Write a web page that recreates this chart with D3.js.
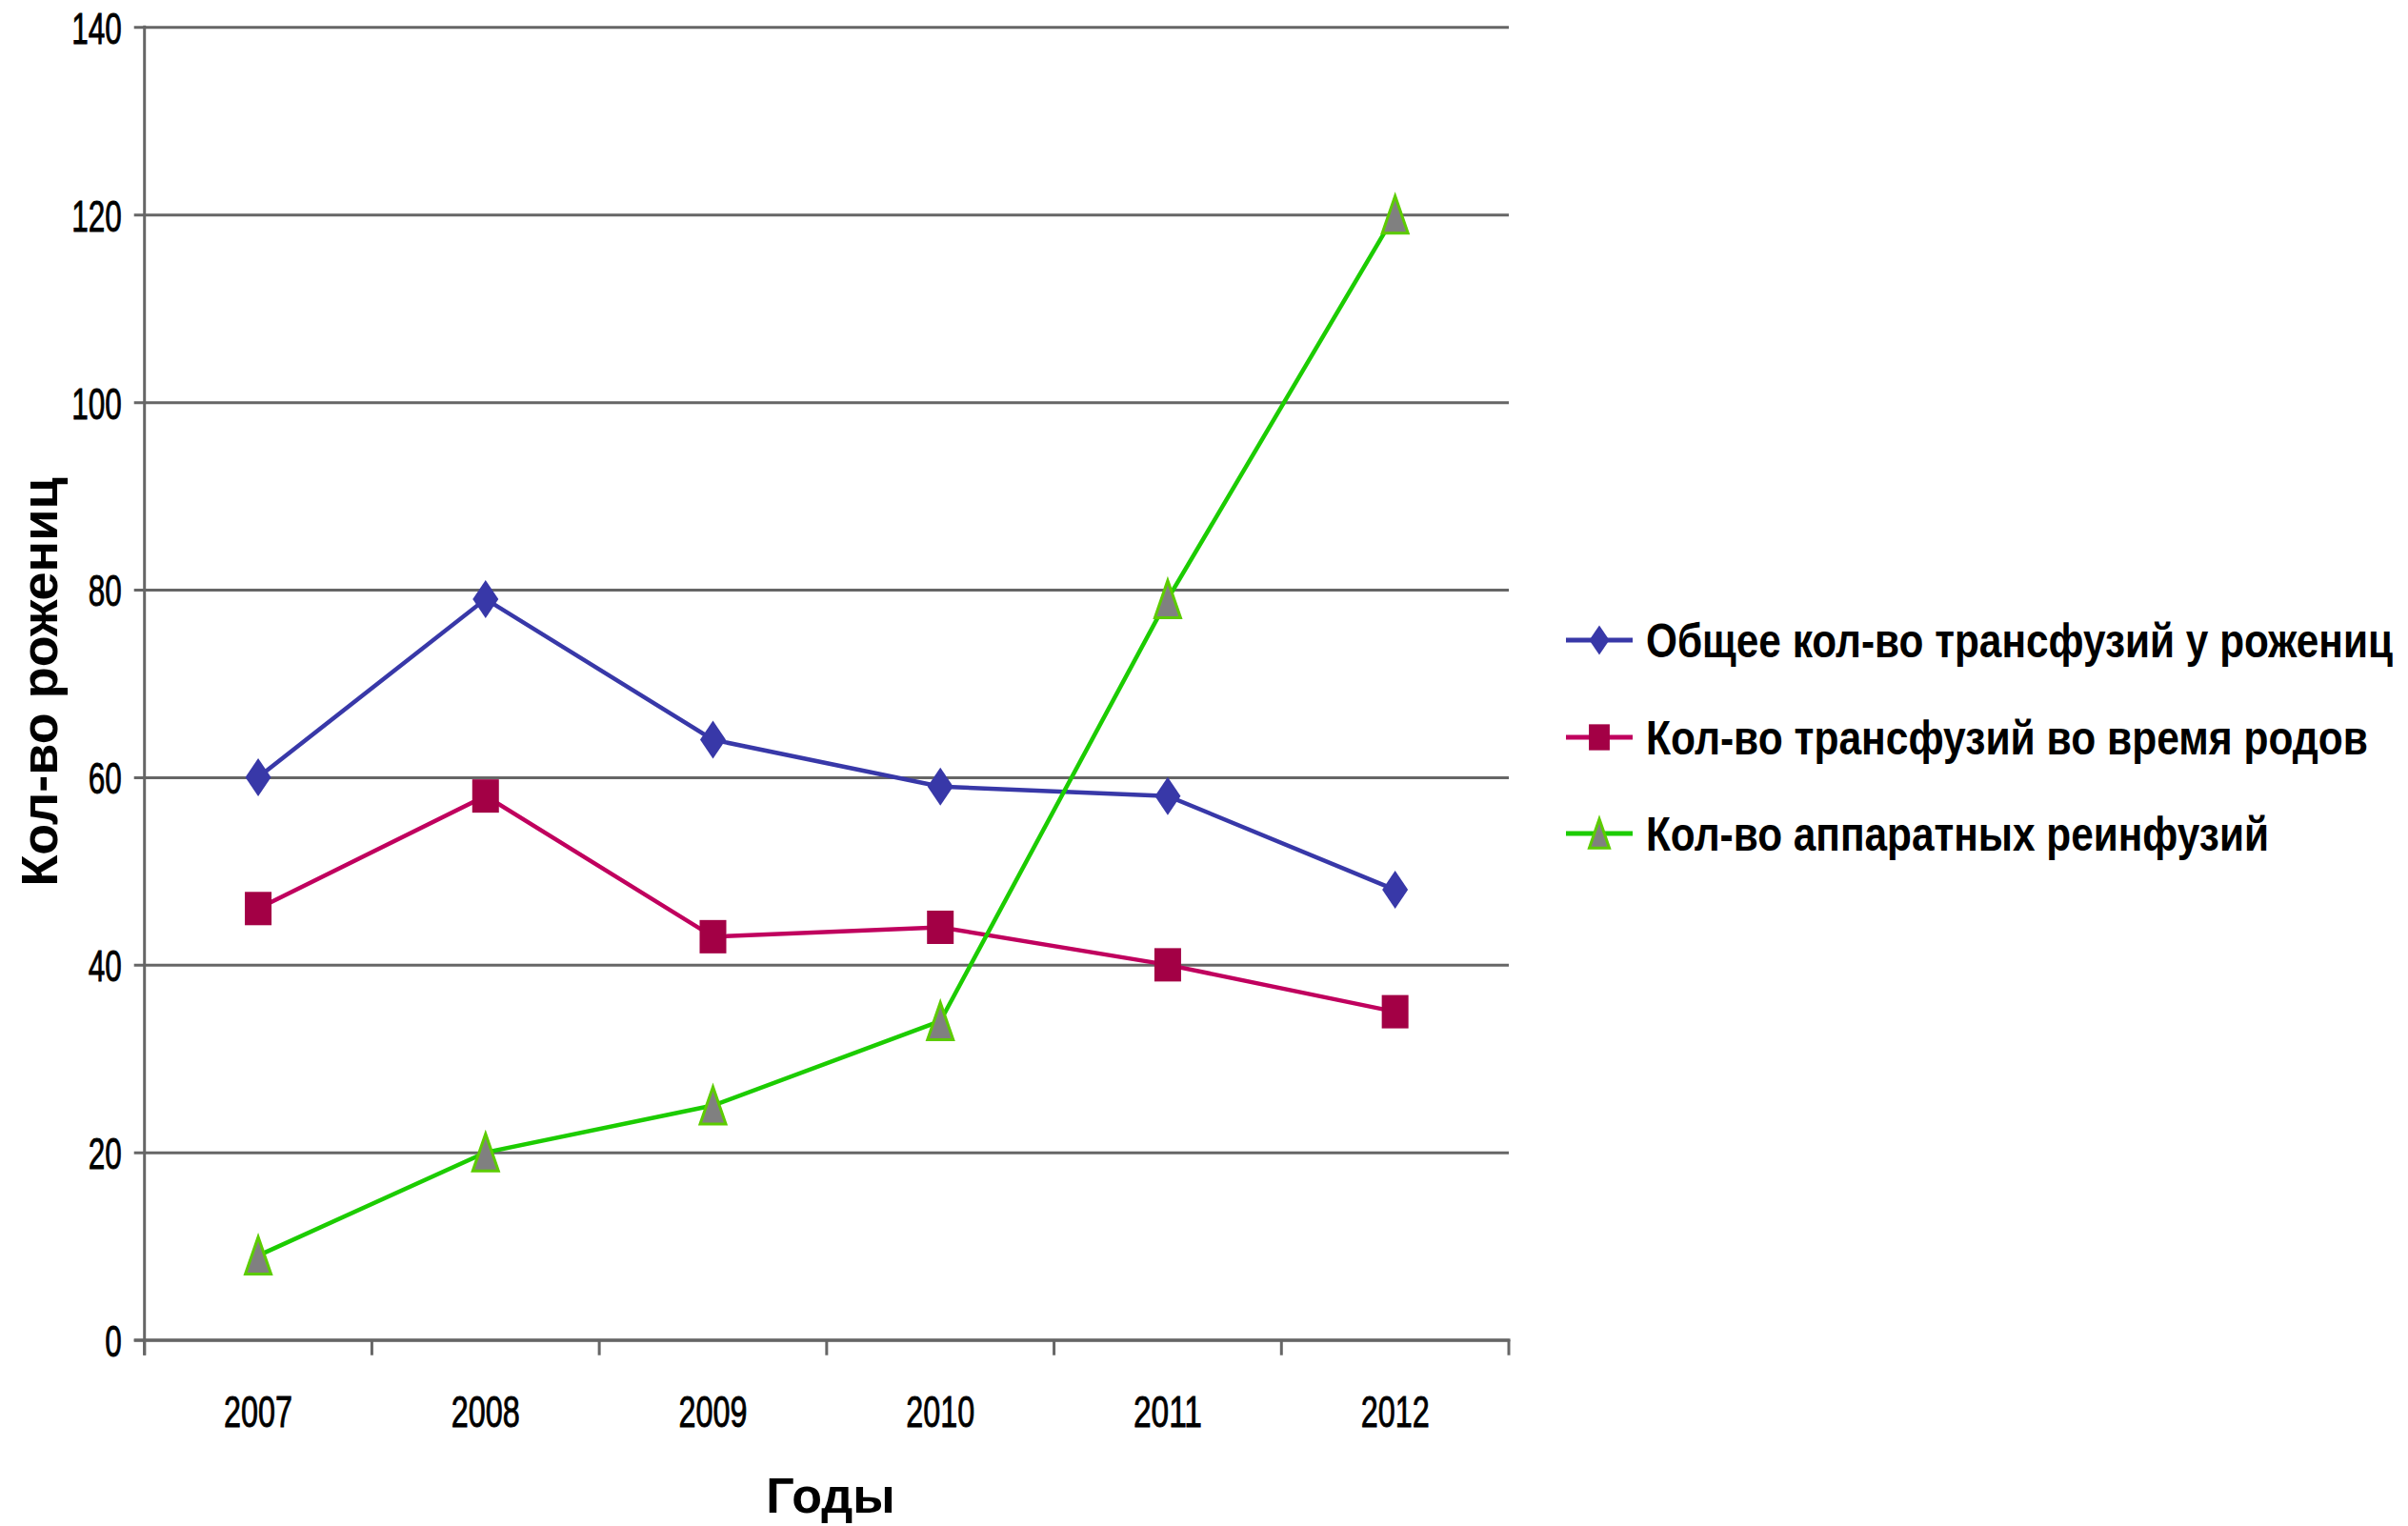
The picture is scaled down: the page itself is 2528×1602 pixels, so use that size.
<!DOCTYPE html>
<html>
<head>
<meta charset="utf-8">
<script src="https://cdn.jsdelivr.net/npm/d3@7"></script>
<style>
  html, body { margin: 0; padding: 0; background: #fff; }
  svg { display: block; }
  .narrow { font-family: "Liberation Sans Narrow", "Arial Narrow", "Liberation Sans", Arial, sans-serif; }
  .bold { font-family: "Liberation Sans", Arial, "DejaVu Sans", sans-serif; font-weight: bold; }
</style>
</head>
<body>
<script>
// Years on the horizontal axis
const years = ["2007", "2008", "2009", "2010", "2011", "2012"];

// Series values per year
const totalTransfusions = [60, 79, 64, 59, 58, 48];
const laborTransfusions = [46, 58, 43, 44, 40, 35];
const reinfusions = [9, 20, 25, 34, 79, 120];

// Series names shown in the legend
const seriesNames = [
  "Общее кол-во трансфузий у рожениц",
  "Кол-во трансфузий во время родов",
  "Кол-во аппаратных реинфузий"
];

// Y axis ticks
const yTicks = [0, 20, 40, 60, 80, 100, 120, 140];

const W = 2528, H = 1602;
const plot = { left: 151.7, right: 1584, top: 28.3, bottom: 1406.7 };

const svg = d3.select("body").append("svg")
  .attr("width", W).attr("height", H);

const x = d3.scaleBand().domain(years).range([plot.left, plot.right]);
const y = d3.scaleLinear().domain([0, 140]).range([plot.bottom, plot.top]);

const gridColor = "#666666";

// Horizontal gridlines with short outward ticks, plus labels
const yAxis = svg.append("g")
  .attr("transform", `translate(${plot.left},0)`)
  .call(d3.axisLeft(y).tickValues(yTicks).tickSize(0).tickPadding(0));
yAxis.select(".domain").remove();
yAxis.selectAll(".tick line")
  .attr("x1", -11).attr("x2", plot.right - plot.left)
  .attr("stroke", gridColor).attr("stroke-width", 3);
yAxis.selectAll(".tick text")
  .attr("class", "narrow")
  .attr("x", -24).attr("dy", "0.36em")
  .attr("text-anchor", "end")
  .attr("font-size", 47)
  .attr("fill", "#000")
  .attr("stroke", "#000").attr("stroke-width", 0.9)
  .attr("textLength", d => String(d).length * 17.5)
  .attr("lengthAdjust", "spacingAndGlyphs");

// Vertical axis line, extending down to the tick length
svg.append("line")
  .attr("x1", plot.left).attr("x2", plot.left)
  .attr("y1", plot.top - 1.5).attr("y2", plot.bottom + 16)
  .attr("stroke", gridColor).attr("stroke-width", 3);

// Bottom axis: band boundary ticks and centred year labels
const xAxis = svg.append("g")
  .attr("transform", `translate(0,${plot.bottom})`);
xAxis.append("line")
  .attr("x1", plot.left - 11).attr("x2", plot.right + 1.5)
  .attr("stroke", gridColor).attr("stroke-width", 3);
const boundaries = years.map(d => x(d)).concat([x(years[years.length - 1]) + x.bandwidth()]);
xAxis.selectAll("line.tick").data(boundaries).join("line")
  .attr("class", "tick")
  .attr("x1", d => d).attr("x2", d => d)
  .attr("y1", 0).attr("y2", 16)
  .attr("stroke", gridColor).attr("stroke-width", 3);
xAxis.selectAll("text").data(years).join("text")
  .attr("class", "narrow")
  .attr("x", d => x(d) + x.bandwidth() / 2)
  .attr("y", 91)
  .attr("text-anchor", "middle")
  .attr("font-size", 47)
  .attr("fill", "#000")
  .attr("stroke", "#000").attr("stroke-width", 0.9)
  .attr("textLength", 72)
  .attr("lengthAdjust", "spacingAndGlyphs")
  .text(d => d);

// Axis titles
svg.append("text")
  .attr("class", "bold")
  .attr("transform", `translate(60,${716}) rotate(-90)`)
  .attr("text-anchor", "middle")
  .attr("font-size", 54)
  .attr("fill", "#000")
  .text("Кол-во рожениц");

svg.append("text")
  .attr("class", "bold")
  .attr("x", 872).attr("y", 1588)
  .attr("text-anchor", "middle")
  .attr("font-size", 52)
  .attr("fill", "#000")
  .text("Годы");

const cx = d => x(d) + x.bandwidth() / 2;

// Marker shapes (width, height scaled independently)
function diamondPath(w, h) {
  return `M0,${-h / 2}L${w / 2},0L0,${h / 2}L${-w / 2},0Z`;
}
function trianglePath(w, h) {
  return `M0,${-h / 2}L${w / 2},${h / 2}L${-w / 2},${h / 2}Z`;
}

const series = [
  { name: seriesNames[0], values: totalTransfusions, line: "#3838a8", marker: "diamond", fill: "#3838a8", stroke: "none" },
  { name: seriesNames[1], values: laborTransfusions, line: "#c0005e", marker: "square", fill: "#a30045", stroke: "none" },
  { name: seriesNames[2], values: reinfusions, line: "#1ccc00", marker: "triangle", fill: "#808080", stroke: "#5ccc00" }
];

function drawMarker(sel, s, w, h) {
  if (s.marker === "diamond") {
    sel.append("path").attr("d", diamondPath(w, h)).attr("fill", s.fill);
  } else if (s.marker === "square") {
    sel.append("rect").attr("x", -w / 2).attr("y", -h / 2)
      .attr("width", w).attr("height", h).attr("fill", s.fill);
  } else {
    sel.append("path").attr("d", trianglePath(w, h))
      .attr("fill", s.fill).attr("stroke", s.stroke).attr("stroke-width", 3)
      .attr("stroke-linejoin", "miter");
  }
}

const markerSize = { diamond: [27, 40], square: [28, 35], triangle: [27, 39] };

const line = d3.line().x(d => cx(d.year)).y(d => y(d.value));

series.forEach(s => {
  const pts = years.map((yr, i) => ({ year: yr, value: s.values[i] }));
  const g = svg.append("g");
  g.append("path")
    .datum(pts)
    .attr("d", line)
    .attr("fill", "none")
    .attr("stroke", s.line)
    .attr("stroke-width", 4.5);
  g.selectAll("g.pt").data(pts).join("g")
    .attr("class", "pt")
    .attr("transform", d => `translate(${cx(d.year)},${y(d.value)})`)
    .each(function () {
      const [w, h] = markerSize[s.marker];
      drawMarker(d3.select(this), s, w, h);
    });
});

// Legend: condensed bold labels, stretched vertically from a smaller base size
const legendRows = [672, 774, 875];
const legendWidths = [784, 758, 654];
const legend = svg.append("g");
series.forEach((s, i) => {
  const row = legend.append("g").attr("transform", `translate(1644,${legendRows[i]})`);
  row.append("line")
    .attr("x1", 0).attr("x2", 70)
    .attr("stroke", s.line).attr("stroke-width", 5);
  const m = row.append("g").attr("transform", "translate(35,0)");
  const [w, h] = markerSize[s.marker];
  drawMarker(m, s, w * 0.78, h * 0.78);
  row.append("text")
    .attr("class", "bold")
    .attr("transform", "translate(84,18) scale(1,1.25)")
    .attr("font-size", 40)
    .attr("fill", "#000")
    .attr("textLength", legendWidths[i])
    .attr("lengthAdjust", "spacingAndGlyphs")
    .text(s.name);
});
</script>
</body>
</html>
